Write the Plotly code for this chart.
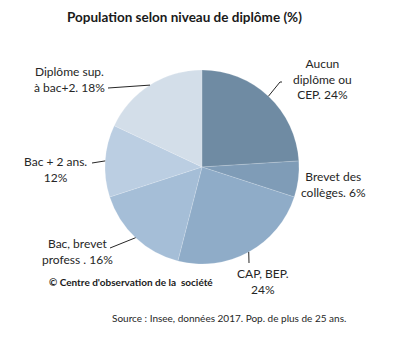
import math
import plotly.graph_objects as go

# Data
categories = ["Aucun diplôme ou CEP", "Brevet des collèges", "CAP, BEP",
              "Bac, brevet profess", "Bac + 2 ans", "Diplôme sup. à bac+2"]
values = [24, 6, 24, 16, 12, 18]
label_texts = ["Aucun<br>diplôme ou<br>CEP. 24%", "Brevet des<br>collèges. 6%",
               "CAP, BEP.<br>24%", "Bac, brevet<br>profess . 16%",
               "Bac + 2 ans.<br>12%", "Diplôme sup.<br>à bac+2. 18%"]
colors = ["#6f8ba3", "#7f9cb7", "#8facc8", "#a5bed7", "#bbcee2", "#d3dee9"]

W, H = 400, 340
# pie geometry in pixels
cx, cy, R = 202, 167, 97

# label positions (pixel centers) and leader line end points (None = no line)
label_pos = [(322, 79), (333, 184.5), (263, 281), (77, 251), (55, 169.5), (69, 79)]
leader_end = [[(282, 82), (280, 82)], None, [(249, 263)], [(110, 248)], [(92, 163)], [(108, 88)]]

fig = go.Figure(go.Pie(
    labels=categories, values=values, sort=False, direction="clockwise", rotation=0,
    marker=dict(colors=colors, line=dict(color="rgba(255,255,255,0.3)", width=0.5)),
    textinfo="none", hoverinfo="label+percent", showlegend=False,
    domain=dict(x=[(cx - R) / W, (cx + R) / W], y=[1 - (cy + R) / H, 1 - (cy - R) / H]),
))

def px2paper(x, y):
    return x / W, 1 - y / H

annotations = []
shapes = []
total = sum(values)
cum = 0
for i, v in enumerate(values):
    mid = (cum + v / 2) / total * 2 * math.pi
    cum += v
    ex, ey = cx + R * math.sin(mid), cy - R * math.cos(mid)
    lx, ly = label_pos[i]
    px, py = px2paper(lx, ly)
    annotations.append(dict(x=px, y=py, xref="paper", yref="paper", text=label_texts[i],
                            showarrow=False, xanchor="center", yanchor="middle",
                            font=dict(family="Lato", size=12, color="#262626")))
    if leader_end[i]:
        pts = [(ex, ey)] + list(reversed(leader_end[i]))
        path = "M " + " L ".join(f"{px2paper(a, b)[0]},{px2paper(a, b)[1]}" for a, b in pts)
        shapes.append(dict(type="path", path=path, xref="paper", yref="paper",
                           line=dict(color="#262626", width=1)))

annotations.append(dict(x=px2paper(184, 17)[0], y=px2paper(184, 17)[1], xref="paper", yref="paper",
                        text="<b>Population selon niveau de diplôme (%)</b>", showarrow=False,
                        xanchor="center", yanchor="middle",
                        font=dict(family="Lato", size=13.5, color="#1a1a1a")))
annotations.append(dict(x=px2paper(131, 282)[0], y=px2paper(131, 282)[1], xref="paper", yref="paper",
                        text="<b>© Centre d'observation de la  société</b>", showarrow=False,
                        xanchor="center", yanchor="middle",
                        font=dict(family="Lato", size=10, color="#1a1a1a")))
annotations.append(dict(x=px2paper(229, 318)[0], y=px2paper(229, 318)[1], xref="paper", yref="paper",
                        text="Source : Insee, données 2017. Pop. de plus de 25 ans.", showarrow=False,
                        xanchor="center", yanchor="middle",
                        font=dict(family="Lato", size=10, color="#262626")))

fig.update_layout(width=W, height=H, margin=dict(l=0, r=0, t=0, b=0),
                  paper_bgcolor="white", plot_bgcolor="white",
                  annotations=annotations, shapes=shapes)
fig.write_html("out.html")
